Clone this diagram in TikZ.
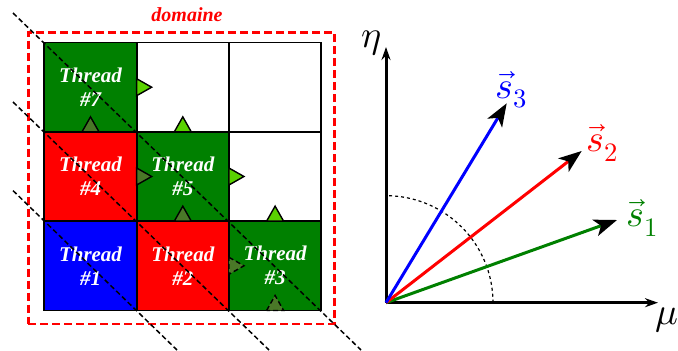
\documentclass[tikz,border=0pt]{standalone}
\usepackage{fontspec}
\usepackage{unicode-math}
\setmathfont{Latin Modern Math}
\newfontfamily\thfont{Liberation Serif}
\usepackage{tikz}
\usetikzlibrary{positioning, arrows.meta}
\definecolor{thgreen}{RGB}{0,128,0}
\definecolor{tridark}{RGB}{74,120,40}
\definecolor{trilight}{RGB}{90,210,0}

\begin{document}
\begin{tikzpicture}[
  x=1pt, y=-1pt,
  node distance=0pt,
  cell/.style={draw, line width=1.8pt, minimum width=92.3pt, minimum height=89.3pt,
               inner sep=0pt, outer sep=0pt, align=center, text=white,
               font=\thfont\bfseries\itshape\fontsize{21}{24}\selectfont},
  trid/.style={draw, line width=1.4pt, fill=tridark},
  tril/.style={draw, line width=1.4pt, fill=trilight},
  diag/.style={line width=1.5pt, dash pattern=on 5pt off 3pt},
  domframe/.style={draw=red, line width=2.5pt, dash pattern=on 8pt off 4pt,
                   minimum width=306pt, minimum height=291.7pt, inner sep=0pt},
  dlabel/.style={text=red, inner sep=0pt, font=\thfont\bfseries\itshape\fontsize{20}{22}\selectfont},
  axe/.style={line width=3pt, -{Stealth[length=13pt,width=9pt]}},
  vec/.style={line width=3pt, -{Stealth[length=23pt,width=17pt,inset=6pt,color=black]}},
  lab/.style={inner sep=0pt, font=\fontsize{38}{40}\selectfont}
]
  \useasboundingbox (0,0) rectangle (678,351);

  \node[cell, fill=blue] (t1) at (90.5,265.8) {Thread\\\#1};
  \node[cell, fill=red, right=of t1] (t2) {Thread\\\#2};
  \node[cell, fill=thgreen, right=of t2] (t3) {Thread\\\#3};
  \node[cell, fill=red, above=of t1] (t4) {Thread\\\#4};
  \node[cell, fill=thgreen, right=of t4] (t5) {Thread\\\#5};
  \node[cell, right=of t5] (e6) {};
  \node[cell, fill=thgreen, above=of t4] (t7) {Thread\\\#7};
  \node[cell, right=of t7] (e8) {};
  \node[cell, right=of e8] (e9) {};

  \node[domframe] (dom) at (181.3,178.2) {};
  \node[dlabel, anchor=base] (dtxt) at (187,21) {domaine};

  \coordinate (d1a) at (13,13);
  \coordinate (d1b) at (361,350);
  \coordinate (d2a) at (13,102);
  \coordinate (d2b) at (269,350);
  \coordinate (d3a) at (13,190.6);
  \coordinate (d3b) at (177,350);
  \draw[diag] (d1a) -- (d1b);
  \draw[diag] (d2a) -- (d2b);
  \draw[diag] (d3a) -- (d3b);

  \draw[trid] ([xshift=-8.5pt]t7.south) -- ++(8.5,-15) -- ++(8.5,15) -- cycle;
  \draw[tril] ([xshift=-8.5pt]e8.south) -- ++(8.5,-15) -- ++(8.5,15) -- cycle;
  \draw[tril] ([yshift=8.5pt]e8.west) -- ++(15,8.5) -- ++(-15,8.5) -- cycle;
  \draw[trid] ([xshift=-8.5pt]t5.south) -- ++(8.5,-15) -- ++(8.5,15) -- cycle;
  \draw[trid] ([yshift=8.5pt]t5.west) -- ++(15,8.5) -- ++(-15,8.5) -- cycle;
  \draw[tril] ([xshift=-8.5pt]e6.south) -- ++(8.5,-15) -- ++(8.5,15) -- cycle;
  \draw[tril] ([yshift=8.5pt]e6.west) -- ++(15,8.5) -- ++(-15,8.5) -- cycle;
  \draw[trid, dash pattern=on 5pt off 3pt] ([xshift=-8.5pt]t3.south) -- ++(8.5,-15) -- ++(8.5,15) -- cycle;
  \draw[trid, dash pattern=on 5pt off 3pt] ([yshift=8.5pt]t3.west) -- ++(15,8.5) -- ++(-15,8.5) -- cycle;

  \coordinate (O) at (386,302.7);
  \coordinate (etatip) at (386,47);
  \coordinate (mutip) at (658,302.7);
  \draw[dashed, line width=1.2pt] (O) ++(107,0) arc[start angle=0, end angle=-90, radius=107];
  \draw[axe] (O) -- (etatip);
  \draw[axe] (O) -- (mutip);
  \node[lab] (eta) at (371,43) {$\eta$};
  \node[lab] (mu) at (667,320) {$\mu$};

  \coordinate (s1tip) at (617,220);
  \coordinate (s2tip) at (581.7,151);
  \coordinate (s3tip) at (506.7,103.3);
  \draw[vec, thgreen] (O) -- (s1tip);
  \draw[vec, red] (O) -- (s2tip);
  \draw[vec, blue] (O) -- (s3tip);
  \node[lab, text=thgreen] (s1) at (642,218) {$\vec{s}_1$};
  \node[lab, text=red] (s2) at (602,143) {$\vec{s}_2$};
  \node[lab, text=blue] (s3) at (511.7,90) {$\vec{s}_3$};
\end{tikzpicture}
\end{document}
